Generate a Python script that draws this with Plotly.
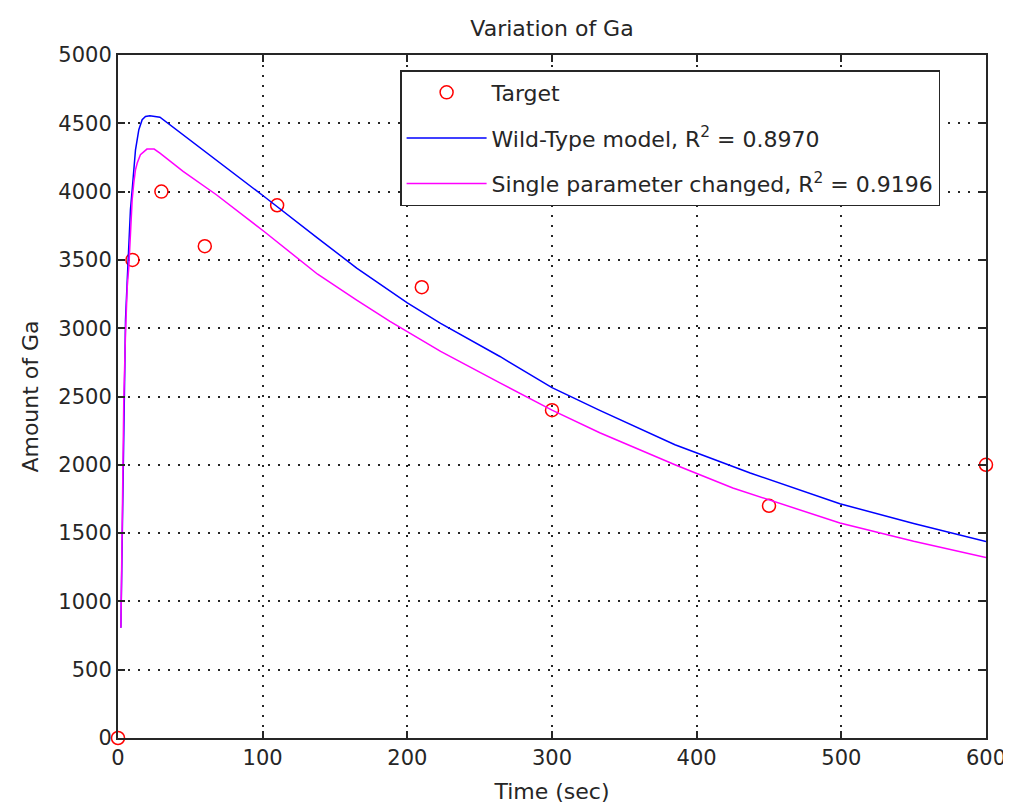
import plotly.graph_objects as go

# Target data
target_t = [0, 10, 30, 60, 110, 210, 300, 450, 600]
target_ga = [0, 3500, 4000, 3600, 3900, 3300, 2400, 1700, 2000]

# Wild-Type model curve
wt_t = [2, 3.3, 4.0, 5.2, 6.4, 7.5, 8.6, 9.8, 10.9, 12.1, 14.4, 16.7, 19, 22, 29,
        45, 68, 101, 138, 165, 200, 223, 264, 300, 333, 385, 437, 499, 550, 600]
wt_ga = [807, 1781, 2500, 3062, 3355, 3599, 3867, 4014, 4184, 4306, 4453, 4526, 4550, 4555, 4545,
         4416, 4233, 3964, 3660, 3440, 3185, 3035, 2793, 2565, 2398, 2147, 1940, 1715, 1570, 1439]

# Single parameter changed curve
sp_t = [2, 3.3, 4.0, 5.2, 6.4, 7.5, 8.6, 9.8, 10.9, 12.1, 13.3, 15.5, 20, 25, 29,
        45, 68, 101, 138, 165, 188, 223, 264, 300, 333, 354, 385, 425, 499, 550, 600]
sp_ga = [807, 1781, 2476, 2967, 3306, 3452, 3699, 3940, 4062, 4160, 4209, 4270, 4311, 4311, 4282,
         4148, 3977, 3708, 3395, 3205, 3050, 2830, 2600, 2400, 2235, 2140, 2000, 1830, 1574, 1440, 1322]

x_ticks = [0, 100, 200, 300, 400, 500, 600]
y_ticks = list(range(0, 5001, 500))

FONT = "DejaVu Sans, Liberation Sans, Arial, sans-serif"
INK = "#262626"

fig = go.Figure()
fig.add_trace(go.Scatter(
    x=target_t, y=target_ga, mode="markers", name="Target",
    legendgroup="a",
    marker=dict(symbol="circle-open", color="#ff0000", size=13, line=dict(width=1.5, color="#ff0000")),
    cliponaxis=False,
))
fig.add_trace(go.Scatter(
    x=wt_t, y=wt_ga, mode="lines", name="Wild-Type model, R<sup>2</sup> = 0.8970",
    legendgroup="b",
    line=dict(color="#0000ff", width=1.5),
))
fig.add_trace(go.Scatter(
    x=sp_t, y=sp_ga, mode="lines", name="Single parameter changed, R<sup>2</sup> = 0.9196",
    legendgroup="c",
    line=dict(color="#ff00ff", width=1.5),
))

axis_common = dict(
    showline=True, linecolor=INK, linewidth=2, mirror="ticks",
    ticks="inside", ticklen=7, tickwidth=1.5, tickcolor=INK,
    showgrid=True, gridcolor=INK, griddash="2px,8px", gridwidth=1.5,
    zeroline=False,
    tickfont=dict(family=FONT, size=21, color=INK),
)

fig.update_xaxes(range=[0, 600], tickvals=x_ticks,
                 title=dict(text="Time (sec)", font=dict(family=FONT, size=22, color=INK), standoff=14),
                 **axis_common)
fig.update_yaxes(range=[0, 5000], tickvals=y_ticks,
                 title=dict(text="Amount of Ga", font=dict(family=FONT, size=22, color=INK), standoff=14),
                 **axis_common)

fig.update_layout(
    width=1011, height=812,
    margin=dict(l=110, r=33, t=47, b=82),
    paper_bgcolor="white", plot_bgcolor="white",
    title=dict(text="Variation of Ga", x=0.5, xanchor="center", y=0.975, yanchor="middle",
               xref="paper",
               font=dict(family=FONT, size=22, color=INK)),
    showlegend=True,
    legend=dict(
        x=0.325, y=0.978, xanchor="left", yanchor="top",
        bgcolor="white", bordercolor=INK, borderwidth=1.5,
        font=dict(family=FONT, size=22, color=INK),
        traceorder="grouped", tracegroupgap=14, itemwidth=80,
    ),
)

fig.write_html("out.html")
